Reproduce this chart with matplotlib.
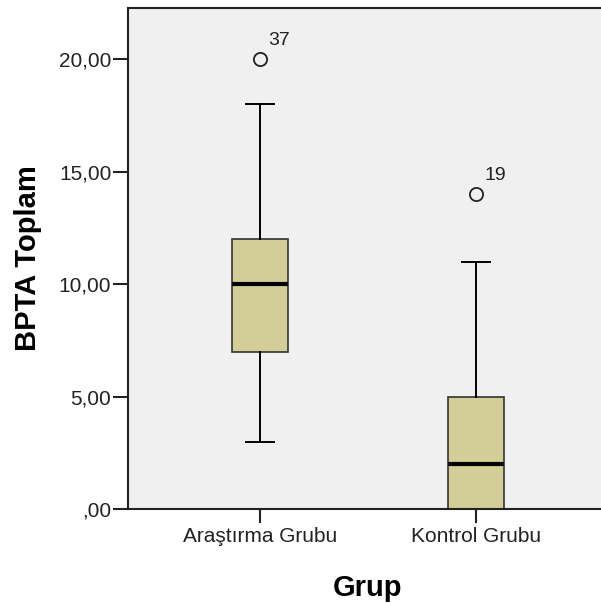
import matplotlib
matplotlib.use("Agg")
import matplotlib.pyplot as plt

plt.rcParams['font.family'] = ['Liberation Sans', 'DejaVu Sans']

# data
groups = ["Araştırma Grubu", "Kontrol Grubu"]
whislo = [3, 0]
q1 = [7, 0]
med = [10, 2]
q3 = [12, 5]
whishi = [18, 11]
outliers = [[20], [14]]
outlier_ids = [["37"], ["19"]]
yticks = [0, 5, 10, 15, 20]
ytick_labels = [",00", "5,00", "10,00", "15,00", "20,00"]

stats = []
for i in range(len(groups)):
    stats.append(dict(label=groups[i], whislo=whislo[i], q1=q1[i], med=med[i],
                      q3=q3[i], whishi=whishi[i], fliers=outliers[i]))

fig = plt.figure(figsize=(6.01, 6.03), dpi=100)
ax = fig.add_axes([128 / 601, 94 / 603, 480 / 601, 501 / 603])
ax.set_facecolor("#f0f0f0")

positions = [1, 2]
ax.bxp(stats, positions=positions, widths=0.255, patch_artist=True,
       boxprops=dict(facecolor="#d3ce97", edgecolor="#333333", linewidth=1.2),
       medianprops=dict(color="black", linewidth=3),
       whiskerprops=dict(color="black", linewidth=1.4),
       capprops=dict(color="black", linewidth=1.4),
       flierprops=dict(marker="o", markerfacecolor="none", markeredgecolor="#222222",
                       markersize=9.5, markeredgewidth=1.3),
       capwidths=0.13)

# outlier case numbers
for i, pos in enumerate(positions):
    for val, lab in zip(outliers[i], outlier_ids[i]):
        ax.annotate(lab, (pos, val), xytext=(6, 10), textcoords="offset points",
                    fontsize=14, color="#222222", ha="left", va="baseline")

ax.set_xlim(0.389, 2.611)
ax.set_ylim(0, 22.27)
ax.set_yticks(yticks)
ax.set_yticklabels(ytick_labels)
ax.set_xticks(positions)
ax.set_xticklabels(groups)
ax.tick_params(axis="y", length=11, width=1.5, labelsize=15, colors="#222222", pad=1)
ax.tick_params(axis="x", length=10, width=1.5, labelsize=15, colors="#222222", pad=3)

for s in ax.spines.values():
    s.set_linewidth(1.5)
    s.set_color("#222222")

ax.set_ylabel("BPTA Toplam", fontsize=21, fontweight="bold")
ax.set_xlabel("Grup", fontsize=21, fontweight="bold")
ax.yaxis.set_label_coords(-0.18, 0.5)
ax.xaxis.set_label_coords(0.5, -0.13)

fig.savefig("out.png", dpi=100)
